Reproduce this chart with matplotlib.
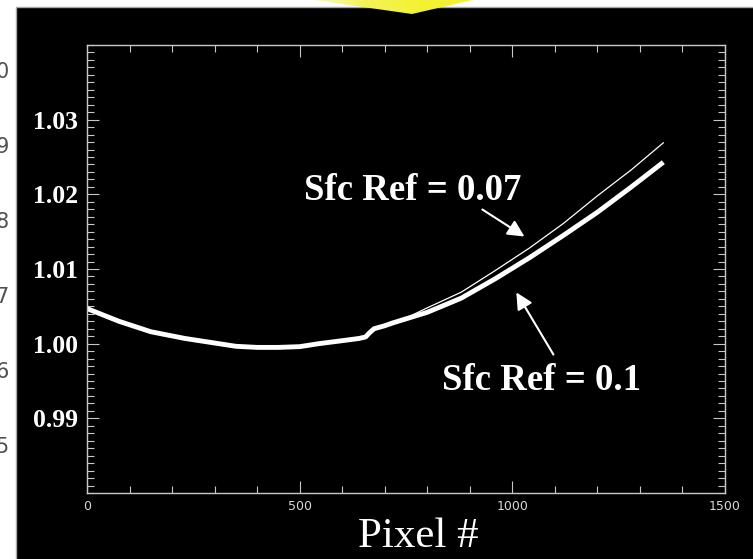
import matplotlib
matplotlib.use("Agg")
import matplotlib.pyplot as plt
import numpy as np
from matplotlib.patches import Rectangle, Polygon
from matplotlib.colors import LinearSegmentedColormap
from matplotlib.ticker import MultipleLocator, FixedLocator

# Datos
pix_common = [0, 75, 150, 230, 310, 350, 400, 450, 500, 545, 600, 640, 655, 665, 675, 700, 720]
ref_common = [1.0047, 1.0030, 1.0016, 1.0007, 1.0000, 0.99965, 0.9995, 0.9995, 0.9996,
              1.0000, 1.0004, 1.0007, 1.0009, 1.0015, 1.0020, 1.0024, 1.0028]

# Sfc Ref = 0.1 (linea gruesa)
pix_01 = [760, 800, 880, 960, 1040, 1120, 1200, 1280, 1355]
ref_01 = [1.0035, 1.0042, 1.0061, 1.0087, 1.0115, 1.0145, 1.0176, 1.0210, 1.0243]

# Sfc Ref = 0.07 (linea fina)
pix_007 = [760, 800, 880, 960, 1040, 1120, 1200, 1280, 1355]
ref_007 = [1.0037, 1.0048, 1.0069, 1.0098, 1.0128, 1.0161, 1.0198, 1.0233, 1.0269]

y_ticks = [0.99, 1.00, 1.01, 1.02, 1.03]
x_ticks = [0, 500, 1000, 1500]
frag_digits = ["0", "9", "8", "7", "6", "5"]

W, H = 753, 559
fig = plt.figure(figsize=(W / 100, H / 100), dpi=100, facecolor="white")

# Fondo: panel negro, flecha amarilla y restos del grafico de la izquierda
bg = fig.add_axes([0, 0, 1, 1])
bg.set_xlim(0, W)
bg.set_ylim(H, 0)
bg.axis("off")
bg.add_patch(Rectangle((16.5, 6.5), W, H, facecolor="black", edgecolor="#a8a8a8", lw=1))

tri = Polygon([(307, -1), (412, 14), (477, -1)], closed=True, facecolor="none", edgecolor="none")
bg.add_patch(tri)
cmap = LinearSegmentedColormap.from_list("amarillo", ["#fbfbd8", "#f4f35a", "#f3f232", "#f3f232"])
grad = np.linspace(0, 1, 256).reshape(1, -1)
im = bg.imshow(grad, cmap=cmap, extent=(307, 477, 14, -1), aspect="auto", zorder=3)
im.set_clip_path(tri)

for i, d in enumerate(frag_digits):
    bg.text(9, 72 + 75 * i, d, ha="right", va="center", fontsize=15, color="#505050",
            family="DejaVu Sans")

# Grafico principal
ax = fig.add_axes([87 / W, (H - 493) / H, 638 / W, 448 / H])
ax.set_facecolor("black")

x_thick = pix_common + pix_01
y_thick = ref_common + ref_01
x_thin = pix_common + pix_007
y_thin = ref_common + ref_007

ax.plot(x_thick, y_thick, color="white", lw=3.5, solid_capstyle="butt", solid_joinstyle="round")
ax.plot(x_thin, y_thin, color="white", lw=0.9)

ax.set_xlim(0, 1500)
ax.set_ylim(0.98, 1.04)

ax.xaxis.set_major_locator(FixedLocator(x_ticks))
ax.xaxis.set_minor_locator(MultipleLocator(100))
ax.yaxis.set_major_locator(FixedLocator(y_ticks))
ax.yaxis.set_minor_locator(MultipleLocator(0.001))
ax.set_yticklabels([f"{v:.2f}" for v in y_ticks])

for s in ax.spines.values():
    s.set_color("#c8c8c8")
    s.set_linewidth(1.0)

ax.tick_params(which="both", direction="in", top=True, right=True, color="#c8c8c8", width=0.8)
ax.tick_params(which="major", length=8.6)
ax.tick_params(which="minor", length=5)
ax.tick_params(axis="x", labelsize=9, labelcolor="#d8d8d8", pad=5)
ax.tick_params(axis="y", labelsize=18.5, labelcolor="white", pad=6.5)
for lbl in ax.get_yticklabels():
    lbl.set_family("Liberation Serif")
    lbl.set_fontweight("bold")

# Textos y flechas
ax.text(765, 1.0192, "Sfc Ref = 0.07", ha="center", va="baseline", color="white",
        fontsize=26.5, fontweight="bold", family="Liberation Serif")
ax.text(1069, 0.9938, "Sfc Ref = 0.1", ha="center", va="baseline", color="white",
        fontsize=26.5, fontweight="bold", family="Liberation Serif")

ax.annotate("", xy=(1034, 1.01415), xytext=(924, 1.01817),
            arrowprops=dict(arrowstyle="-|>", color="white", lw=1.5, mutation_scale=25))
ax.annotate("", xy=(1006, 1.00719), xytext=(1100, 0.99822),
            arrowprops=dict(arrowstyle="-|>", color="white", lw=1.5, mutation_scale=25))

fig.text(418 / W, (H - 547) / H, "Pixel #", ha="center", va="baseline", color="white",
         fontsize=31, family="Liberation Serif")

plt.savefig("out.png", dpi=100, facecolor="white")
